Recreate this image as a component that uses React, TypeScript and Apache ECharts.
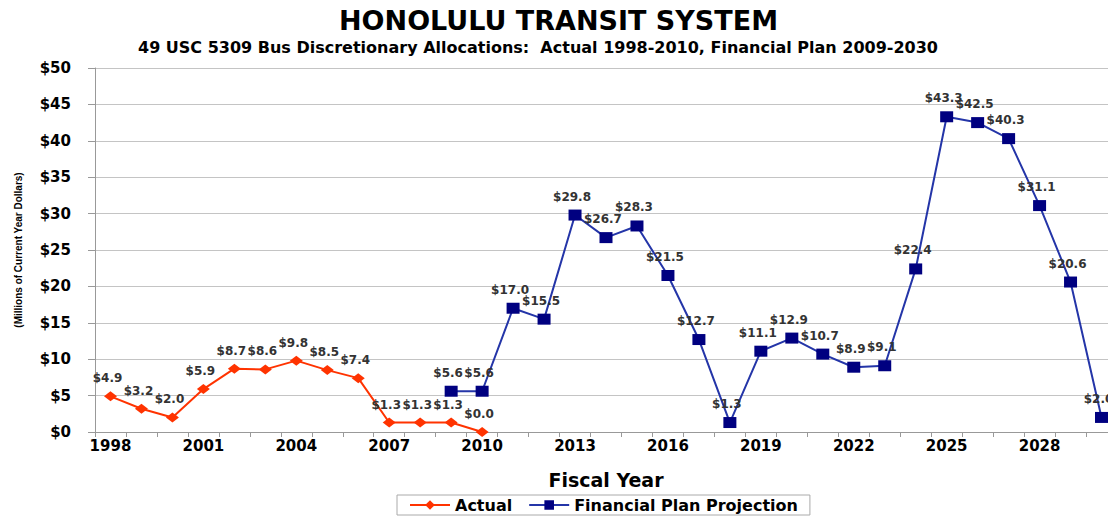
import React, { useEffect, useRef } from "react";
import * as echarts from "echarts";

const years = [
  "1998", "1999", "2000", "2001", "2002", "2003", "2004", "2005", "2006", "2007", "2008",
  "2009", "2010", "2011", "2012", "2013", "2014", "2015", "2016", "2017", "2018", "2019",
  "2020", "2021", "2022", "2023", "2024", "2025", "2026", "2027", "2028", "2029", "2030",
];

const actual: (number | null)[] = [
  4.9, 3.2, 2.0, 5.9, 8.7, 8.6, 9.8, 8.5, 7.4, 1.3, 1.3, 1.3, 0.0,
  null, null, null, null, null, null, null, null, null, null, null, null, null,
  null, null, null, null, null, null, null,
];

const plan: (number | null)[] = [
  null, null, null, null, null, null, null, null, null, null, null,
  5.6, 5.6, 17.0, 15.5, 29.8, 26.7, 28.3, 21.5, 12.7, 1.3, 11.1,
  12.9, 10.7, 8.9, 9.1, 22.4, 43.3, 42.5, 40.3, 31.1, 20.6, 2.0,
];

const FONT = "DejaVu Sans";

export default function App() {
  const ref = useRef<HTMLDivElement>(null);
  useEffect(() => {
    if (!ref.current) return;
    const chart = echarts.init(ref.current, null, { renderer: "svg" });
    const labelCfg = {
      show: true,
      position: "top" as const,
      distance: 7,
      offset: [-3, 0],
      fontFamily: FONT,
      fontWeight: "bold" as const,
      fontSize: 12,
      color: "#333",
      formatter: (p: any) => "$" + Number(p.value).toFixed(1),
    };
    chart.setOption({
      animation: false,
      backgroundColor: "#fff",
      title: [
        {
          text: "HONOLULU TRANSIT SYSTEM",
          left: "center",
          top: 2,
          textStyle: { fontFamily: FONT, fontWeight: "bold", fontSize: 27, color: "#000" },
        },
        {
          text: "49 USC 5309 Bus Discretionary Allocations:  Actual 1998-2010, Financial Plan 2009-2030",
          left: 133,
          top: 34,
          textStyle: { fontFamily: FONT, fontWeight: "bold", fontSize: 16, color: "#000" },
        },
      ],
      legend: {
        bottom: 2,
        left: 397,
        itemWidth: 40,
        itemHeight: 12,
        itemGap: 16,
        borderColor: "#aaa",
        borderWidth: 1,
        padding: [2, 12, 2, 12],
        textStyle: { fontFamily: FONT, fontWeight: "bold", fontSize: 16, color: "#000" },
        data: ["Actual", "Financial Plan Projection"],
      },
      grid: { left: 95, right: 0, top: 68, bottom: 85, containLabel: false },
      xAxis: {
        type: "category",
        data: years,
        boundaryGap: true,
        name: "Fiscal Year",
        nameLocation: "middle",
        nameGap: 38,
        nameTextStyle: { fontFamily: FONT, fontWeight: "bold", fontSize: 19, color: "#000" },
        axisLine: { lineStyle: { color: "#999", width: 1 } },
        axisTick: { show: true, interval: 0, length: 5, lineStyle: { color: "#999" } },
        axisLabel: {
          interval: 2,
          margin: 6,
          fontFamily: FONT,
          fontWeight: "bold",
          fontSize: 15,
          color: "#000",
        },
        splitLine: { show: false },
      },
      yAxis: {
        type: "value",
        min: 0,
        max: 50,
        interval: 5,
        name: "(Millions of Current Year Dollars)",
        nameLocation: "middle",
        nameGap: 72,
        nameRotate: 90,
        nameTextStyle: { fontFamily: "Liberation Sans", fontWeight: "bold", fontSize: 10, color: "#000" },
        axisLine: { show: true, lineStyle: { color: "#999", width: 1 } },
        axisTick: { show: true, length: 7, lineStyle: { color: "#999" } },
        axisLabel: {
          formatter: (v: number) => "$" + v,
          margin: 24,
          fontFamily: FONT,
          fontWeight: "bold",
          fontSize: 15,
          color: "#000",
        },
        splitLine: { show: true, lineStyle: { color: "#c4c4c4", width: 1 } },
      },
      series: [
        {
          name: "Actual",
          type: "line",
          data: actual,
          connectNulls: false,
          symbol: "diamond",
          symbolSize: [13, 10],
          lineStyle: { color: "#FF3300", width: 2 },
          itemStyle: { color: "#FF3300" },
          label: labelCfg,
        },
        {
          name: "Financial Plan Projection",
          type: "line",
          data: plan,
          connectNulls: false,
          symbol: "rect",
          symbolSize: [13, 11],
          lineStyle: { color: "#2435A8", width: 2 },
          itemStyle: { color: "#000080" },
          label: labelCfg,
        },
      ],
    });
    return () => chart.dispose();
  }, []);
  return (
    <div
      ref={ref}
      style={{ position: "fixed", left: 0, top: 0, width: 1117, height: 517, background: "#fff" }}
    />
  );
}
